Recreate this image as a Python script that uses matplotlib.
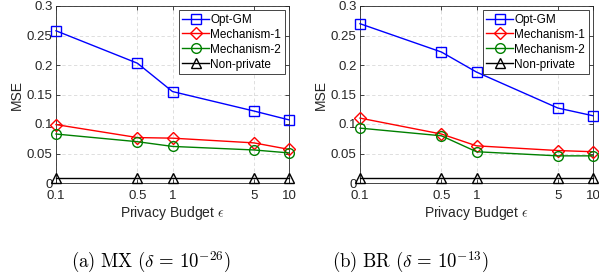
import matplotlib
matplotlib.use("Agg")
import matplotlib.pyplot as plt
import matplotlib.ticker as ticker

plt.rcParams["font.family"] = ["Liberation Sans", "DejaVu Sans"]
plt.rcParams["mathtext.fontset"] = "cm"

# privacy budget values (x axis)
eps = [0.1, 0.5, 1, 5, 10]

# (a) MX
mx_optgm = [0.258, 0.203, 0.155, 0.122, 0.107]
mx_mech1 = [0.099, 0.077, 0.076, 0.068, 0.057]
mx_mech2 = [0.083, 0.070, 0.062, 0.056, 0.051]
mx_nonpriv = [0.008, 0.008, 0.008, 0.008, 0.008]

# (b) BR
br_optgm = [0.270, 0.222, 0.188, 0.127, 0.114]
br_mech1 = [0.110, 0.083, 0.063, 0.055, 0.053]
br_mech2 = [0.093, 0.080, 0.053, 0.046, 0.046]
br_nonpriv = [0.008, 0.008, 0.008, 0.008, 0.008]

labels = ["Opt-GM", "Mechanism-1", "Mechanism-2", "Non-private"]
colors = ["#0000ff", "#ff0000", "#008000", "#000000"]
markers = ["s", "D", "o", "^"]
msizes = [6.5, 6.0, 7.0, 7.5]

yticks = [0, 0.05, 0.1, 0.15, 0.2, 0.25, 0.3]
xticks = [0.1, 0.5, 1, 5, 10]
xticklabels = ["0.1", "0.5", "1", "5", "10"]

captions = [r"$\mathrm{(a)\ MX\ (}\delta\,=\,10^{-26}\mathrm{)}$",
            r"$\mathrm{(b)\ BR\ (}\delta\,=\,10^{-13}\mathrm{)}$"]

W, H = 599, 280
fig = plt.figure(figsize=(W / 100, H / 100), dpi=100)

panels = [
    (56, [mx_optgm, mx_mech1, mx_mech2, mx_nonpriv], captions[0], 151),
    (360, [br_optgm, br_mech1, br_mech2, br_nonpriv], captions[1], 410),
]

for left, series, cap, capx in panels:
    ax = fig.add_axes([left / W, (H - 183) / H, 233 / W, 177 / H])
    for ys, lab, c, m, ms in zip(series, labels, colors, markers, msizes):
        ax.plot(eps, ys, color=c, marker=m, markersize=ms, markerfacecolor="none",
                markeredgecolor=c, markeredgewidth=1.0, linewidth=1.0, label=lab,
                clip_on=False, zorder=3)
    ax.set_xscale("log")
    ax.set_xlim(0.1, 10)
    ax.set_ylim(0, 0.3)
    ax.set_xticks(xticks)
    ax.set_xticklabels(xticklabels)
    ax.xaxis.set_minor_locator(ticker.NullLocator())
    ax.set_yticks(yticks)
    ax.yaxis.set_major_formatter(ticker.FuncFormatter(lambda v, p: "%g" % v))
    ax.tick_params(direction="in", length=3, width=0.6, labelsize=9.5,
                   top=True, right=True, colors="#262626")
    ax.tick_params(axis="x", pad=5)
    ax.tick_params(axis="y", pad=2.5)
    ax.grid(True, linestyle=(0, (4, 3)), color="#d9d9d9", linewidth=0.6)
    for s in ax.spines.values():
        s.set_linewidth(0.6)
        s.set_color("#262626")
    ax.set_xlabel(r"Privacy Budget $\epsilon$", fontsize=10, labelpad=1.5, color="#262626")
    ax.set_ylabel("MSE", fontsize=10, labelpad=2, color="#262626")
    leg = ax.legend(loc="upper right", fontsize=8.5, frameon=True, fancybox=False,
                    edgecolor="#262626", framealpha=1, borderaxespad=0.35,
                    handlelength=2.3, handletextpad=0.1, labelspacing=0.25,
                    borderpad=0.3)
    leg.get_frame().set_linewidth(0.6)
    fig.text(capx / W, 1 - 262 / H, cap, ha="center", va="center", fontsize=13.5)

fig.savefig("out.png", dpi=100)
